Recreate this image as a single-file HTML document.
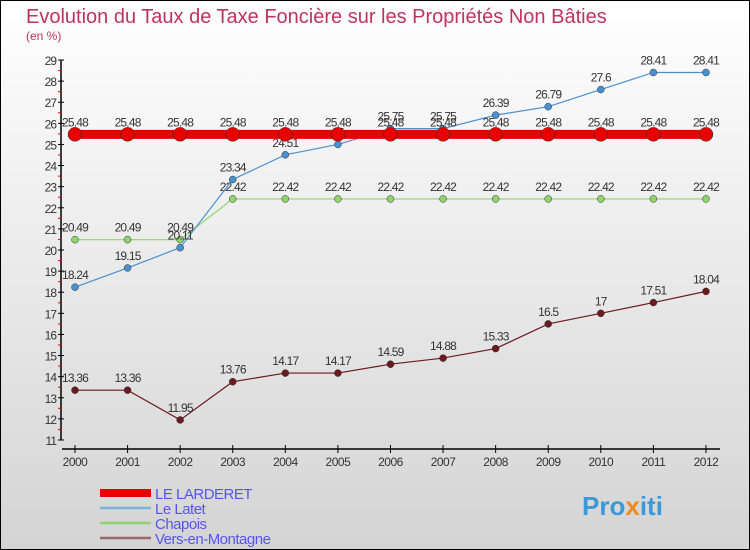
<!DOCTYPE html>
<html><head><meta charset="utf-8"><style>
body{margin:0;width:750px;height:550px;overflow:hidden;font-family:"Liberation Sans",sans-serif}
svg{display:block}
</style></head><body>
<svg id="c" width="750" height="550">
<defs><linearGradient id="bg" x1="0" y1="0" x2="0" y2="1"><stop offset="0" stop-color="#ffffff"/><stop offset="1" stop-color="#d4d4d4"/></linearGradient></defs>
<rect x="0.5" y="0.5" width="749" height="549" fill="url(#bg)" stroke="#000"/>
<text x="26" y="23" font-size="20" fill="#c0335e">Evolution du Taux de Taxe Foncière sur les Propriétés Non Bâties</text>
<text x="26" y="40" font-size="12" fill="#c0335e">(en %)</text>
<g id="axes"></g><g id="series"></g><g id="legend"></g>
<text x="582" y="515" font-size="26" font-weight="bold" fill="#3a9ad9">Pro<tspan fill="#f08a1c">x</tspan>iti</text>
</svg>
<script>
const years=[2000,2001,2002,2003,2004,2005,2006,2007,2008,2009,2010,2011,2012];
const yTicks=[11,12,13,14,15,16,17,18,19,20,21,22,23,24,25,26,27,28,29];
const larderet=[25.48,25.48,25.48,25.48,25.48,25.48,25.48,25.48,25.48,25.48,25.48,25.48,25.48];
const latet=[18.24,19.15,20.11,23.34,24.51,25,25.75,25.75,26.39,26.79,27.6,28.41,28.41];
const chapois=[20.49,20.49,20.49,22.42,22.42,22.42,22.42,22.42,22.42,22.42,22.42,22.42,22.42];
const vers=[13.36,13.36,11.95,13.76,14.17,14.17,14.59,14.88,15.33,16.5,17,17.51,18.04];
const NS="http://www.w3.org/2000/svg";
const xs=i=>75+i*52.58;
const ys=v=>440-(v-11)*21.11;
function mk(t,a,p){const e=document.createElementNS(NS,t);for(const k in a)e.setAttribute(k,a[k]);p.appendChild(e);return e;}
const ax=document.getElementById('axes');
const yl=mk('line',{x1:61,y1:60,x2:61,y2:440,stroke:'#000','stroke-width':1.5},ax);


const xl=mk('line',{x1:62,y1:449,x2:720,y2:449,stroke:'#000','stroke-width':1.5},ax);


yTicks.forEach(v=>{
 mk('line',{x1:58,y1:ys(v),x2:64,y2:ys(v),stroke:'#000'},ax);
 if(v<29)mk('line',{x1:58,y1:ys(v+0.5),x2:61,y2:ys(v+0.5),stroke:'#e00'},ax);
 const t=mk('text',{x:56,y:ys(v)+5,'font-size':12,'text-anchor':'end',fill:'#333','letter-spacing':'-1'},ax);
 t.textContent=v;
 
 
});
years.forEach((y,i)=>{
 mk('line',{x1:xs(i),y1:445,x2:xs(i),y2:453,stroke:'#000'},ax);
 const t=mk('text',{x:xs(i),y:466,'font-size':12,'text-anchor':'middle',fill:'#333','letter-spacing':'-0.5'},ax);
 t.textContent=y;
 
 
});
const sg=document.getElementById('series');
function series(data,color,lw,r,name){
 const g=mk('g',{},sg);
 
 
 mk('polyline',{points:data.map((v,i)=>xs(i)+','+ys(v)).join(' '),fill:'none',stroke:color,'stroke-width':lw},g);
 data.forEach((v,i)=>{
  const c=mk('circle',{cx:xs(i),cy:ys(v),r:r,fill:color,stroke:'#333','stroke-width':0.5},g);
  
  
  const t=mk('text',{x:xs(i),y:ys(v)-8,'font-size':12,'text-anchor':'middle',fill:'#333','letter-spacing':'-0.8'},g);
  t.textContent=v;
  
  
 });
}
series(vers,'#6b1a1f',1.2,3.5,'vers-en-montagne-series');
series(chapois,'#8ed46b',1.2,3.5,'chapois-series');
series(latet,'#4a90d0',1.2,3.5,'le-latet-series');
series(larderet,'#e80000',9,7,'le-larderet-series');
const lg=document.getElementById('legend');
const items=[['LE LARDERET','#e80000',8],['Le Latet','#7ab3d8',2.5],['Chapois','#8ed46b',2.5],['Vers-en-Montagne','#9a6a6a',2.5]];
items.forEach((it,i)=>{
 const y=493+i*15;
 const g=mk('g',{},lg);
 
 
 mk('line',{x1:100,y1:y,x2:151,y2:y,stroke:it[1],'stroke-width':it[2]},g);
 const t=mk('text',{x:155,y:y+6,'font-size':15,fill:'#5555ee','letter-spacing':'-0.5'},g);
 t.textContent=it[0];
});
</script>
</body></html>
